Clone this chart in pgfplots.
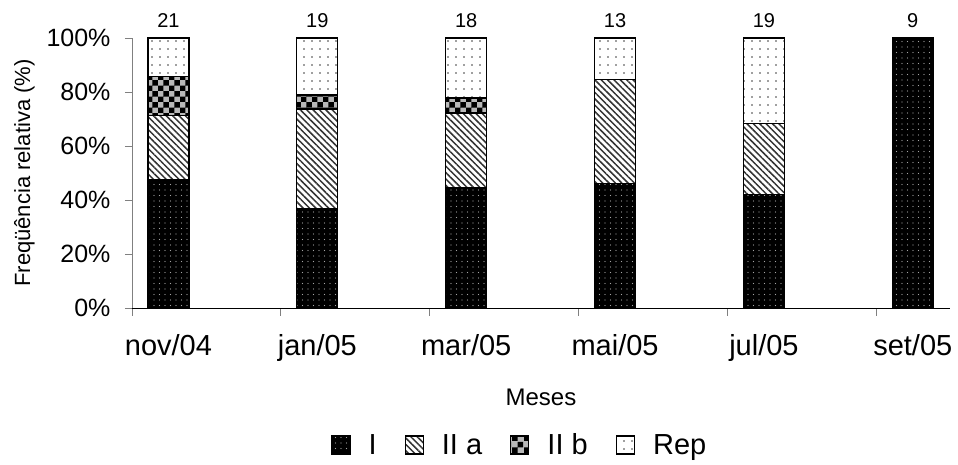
\documentclass[border=0pt]{standalone}
\usepackage{pgfplots}
\pgfplotsset{compat=1.18}
\usepackage{fontspec}
\setmainfont{Liberation Sans}
\usetikzlibrary{patterns,patterns.meta}
\begin{document}
\begin{tikzpicture}
\pgfplotsset{common/.style={scale only axis, width=818pt, height=270pt,
  xmin=-0.245, xmax=5.25, ymin=0, ymax=100, clip=false}}
\begin{axis}[common, name=main,
  ybar stacked, bar width=41pt,
  axis lines*=left,
  y axis line style={gray}, ytick style={gray},
  xtick={0,...,5},
  xticklabels={nov/04,jan/05,mar/05,mai/05,jul/05,set/05},
  major x tick style={draw=none},
  minor xtick={-0.245,0.752,1.752,2.752,3.752,4.752},
  minor tick length=8pt,
  ytick={0,20,...,100},
  major tick length=7pt,
  tick align=outside,
  /pgf/number format/assume math mode=true,
  yticklabel={\pgfmathprintnumber{\tick}\%},
  yticklabel style={font=\fontsize{25}{29}\selectfont, xshift=-11pt},
  xticklabel style={font=\fontsize{29}{33}\selectfont, yshift=-16pt},
  xlabel={Meses}, ylabel={Freqüência relativa (\%)},
  xlabel style={font=\fontsize{24}{28}\selectfont, yshift=-21pt},
  ylabel style={font=\fontsize{22}{26}\selectfont, yshift=5pt},
  legend style={at={(0.474,-0.507)}, anchor=center, draw=none, legend columns=4,
    font=\fontsize{29}{33}\selectfont,
    /tikz/every odd column/.append style={column sep=16pt},
    /tikz/every even column/.append style={column sep=26pt}},
  legend image code/.code={\draw[#1] (0pt,-9pt) rectangle (18pt,9pt);},
]
\addplot[draw=black, line width=1.3pt, fill=black, postaction={pattern={Dots[distance=5.5pt,radius=0.7pt]}, pattern color=gray!70}]
  coordinates {(0,47.6) (1,36.8) (2,44.4) (3,46.2) (4,42.1) (5,100)};
\addlegendentry{I}
\addplot[draw=black, line width=1.3pt, fill=white, postaction={pattern={Lines[angle=-45,distance=4.5pt,line width=1.5pt]}, pattern color=black!80}]
  coordinates {(0,23.8) (1,36.9) (2,27.8) (3,38.4) (4,26.3) (5,0)};
\addlegendentry{II a}
\addplot[draw=black, line width=1.3pt, fill=gray!55, postaction={pattern=checkerboard, pattern color=black}]
  coordinates {(0,14.3) (1,5.2) (2,5.6) (3,0) (4,0) (5,0)};
\addlegendentry{II b}
\addplot[draw=black, line width=1.3pt, fill=white, postaction={pattern={Dots[distance=8pt,radius=0.8pt]}, pattern color=black!75}]
  coordinates {(0,14.3) (1,21.1) (2,22.2) (3,15.4) (4,31.6) (5,0)};
\addlegendentry{Rep}
\end{axis}
\begin{axis}[common, hide axis]
\addplot[draw=none, mark=none, nodes near coords, point meta=explicit symbolic,
  nodes near coords style={font=\fontsize{20}{24}\selectfont, anchor=south, yshift=7pt}]
  coordinates {(0,100)[21] (1,100)[19] (2,100)[18] (3,100)[13] (4,100)[19] (5,100)[9]};
\end{axis}
\pgfresetboundingbox
\path (main.south west) ++(-132pt,-157pt) rectangle ++(958pt,465pt);
\end{tikzpicture}
\end{document}
